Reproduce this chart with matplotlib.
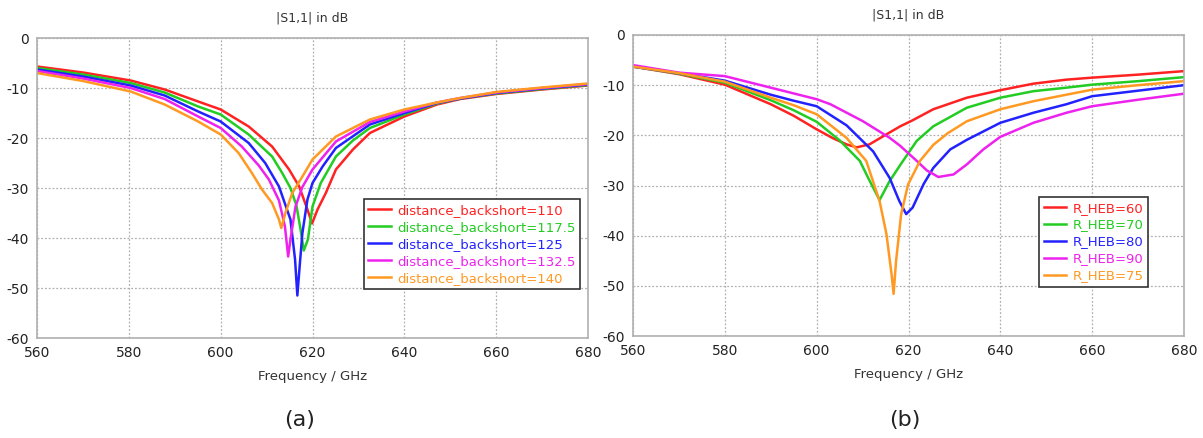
import matplotlib.pyplot as plt

plt.rcParams['axes.unicode_minus'] = False

# panel (a): distance_backshort sweep
freq_a110 = [560, 570, 580.4, 587.8, 595.1, 600, 606.1, 611.2, 614.9, 617.1, 618.9, 619.9,
             621.1, 622.9, 625.1, 628.8, 632.5, 640, 647.1, 652.2, 660, 670, 680]
s11_a110 = [-5.7, -6.9, -8.5, -10.3, -12.7, -14.3, -17.7, -21.7, -26.3, -29.7, -34.3, -37.1,
            -34.3, -31.0, -26.3, -22.3, -19.0, -15.7, -13.3, -12.2, -11.2, -10.3, -9.5]

freq_a117 = [560, 570, 580.4, 587.8, 595.1, 600, 606.1, 611.2, 613.4, 615.2, 616.5, 617.4, 618.1,
             619.0, 620.0, 621.8, 625.1, 628.8, 632.5, 640, 647.1, 652.2, 660, 670, 680]
s11_a117 = [-6.0, -7.3, -9.0, -10.9, -13.7, -15.3, -19.3, -23.7, -27.0, -30.0, -33.5, -38.3, -42.5,
            -40.3, -33.7, -29.0, -23.7, -20.5, -18.0, -15.3, -13.1, -12.1, -11.1, -10.2, -9.4]

freq_a125 = [560, 570, 580.4, 587.8, 595.1, 600, 606.1, 609.7, 612.7, 615.2, 616.2, 616.7,
             617.2, 617.8, 618.9, 620.0, 622.2, 625.1, 632.5, 640, 647.1, 652.2, 660, 670, 680]
s11_a125 = [-6.3, -7.7, -9.5, -11.5, -14.7, -16.7, -21.0, -25.0, -29.7, -36.3, -44.3, -51.5,
            -45.7, -39.0, -32.3, -29.0, -25.7, -22.0, -17.3, -15.0, -13.0, -12.1, -11.0, -10.1, -9.3]

freq_a132 = [560, 570, 580.4, 587.8, 595.1, 600, 604.6, 608.3, 610.5, 612.7, 614.0, 614.7,
             615.2, 616.3, 617.8, 620.0, 625.1, 632.5, 640, 647.1, 652.2, 660, 670, 680]
s11_a132 = [-6.6, -8.1, -10.0, -12.2, -15.7, -18.0, -21.7, -25.5, -28.3, -32.5, -37.7, -43.7,
            -40.3, -33.7, -29.8, -26.3, -20.7, -16.8, -14.7, -12.9, -12.0, -10.9, -10.0, -9.2]

freq_a140 = [560, 570, 580.4, 587.8, 595.1, 600, 603.9, 606.8, 609.0, 611.2, 612.7, 613.2,
             614.1, 615.6, 617.8, 620.0, 625.1, 632.5, 640, 647.1, 652.2, 660, 670, 680]
s11_a140 = [-7.0, -8.6, -10.7, -13.3, -16.7, -19.3, -23.0, -27.0, -30.3, -33.0, -36.3, -38.0,
            -35.0, -31.0, -27.7, -24.3, -19.7, -16.3, -14.3, -12.9, -12.0, -10.8, -9.9, -9.1]

labels_a = ['distance_backshort=110', 'distance_backshort=117.5', 'distance_backshort=125',
            'distance_backshort=132.5', 'distance_backshort=140']

# panel (b): R_HEB sweep
freq_b60 = [560, 570, 580, 590, 595, 600, 603.6, 606.5, 608.7, 611.5, 615.2, 618.2, 620.9,
            625.4, 632.7, 640, 647.2, 654.4, 660, 670, 680]
s11_b60 = [-6.3, -7.8, -9.9, -13.8, -16.1, -18.8, -20.6, -21.8, -22.4, -21.8, -19.8, -18.2, -17.0,
           -14.8, -12.5, -11.0, -9.7, -8.9, -8.5, -7.9, -7.2]

freq_b70 = [560, 570, 580, 590, 595, 600, 605.0, 609.4, 611.5, 613.7, 615.9, 618.5, 621.8,
            625.4, 632.7, 640, 647.2, 654.4, 660, 670, 680]
s11_b70 = [-6.3, -7.7, -9.5, -13.0, -15.0, -17.3, -21.0, -25.1, -29.0, -32.9, -29.1, -25.5, -21.1,
           -18.2, -14.5, -12.5, -11.2, -10.5, -9.9, -9.2, -8.4]

freq_b80 = [560, 570, 580, 590, 595, 600, 606.5, 612.3, 615.9, 618.0, 619.5, 620.9, 623.3,
            625.4, 629.1, 632.7, 640, 647.2, 654.4, 660, 670, 680]
s11_b80 = [-6.3, -7.6, -9.1, -11.9, -13.1, -14.2, -18.0, -23.2, -28.5, -33.1, -35.7, -34.4, -29.7,
           -26.5, -22.8, -20.9, -17.5, -15.5, -13.8, -12.2, -11.1, -10.0]

freq_b90 = [560, 570, 580, 590, 600, 603, 610.1, 615.9, 618.2, 621.8, 624.0, 626.5, 629.8,
            632.7, 636.3, 640, 647.2, 654.4, 660, 670, 680]
s11_b90 = [-6.0, -7.5, -8.2, -10.5, -12.8, -13.8, -17.2, -20.5, -22.1, -25.1, -27.0, -28.3, -27.8,
           -25.8, -22.8, -20.3, -17.5, -15.5, -14.2, -12.9, -11.7]

freq_b75 = [560, 570, 580, 590, 595, 600, 606.5, 610.8, 613.7, 615.2, 616.3, 616.75, 617.3, 618.4,
            619.9, 622.5, 625.4, 628.5, 632.7, 640, 647.2, 654.4, 660, 670, 680]
s11_b75 = [-6.3, -7.6, -9.3, -12.5, -14.0, -15.8, -20.5, -25.1, -33.1, -39.7, -47.6, -51.6, -45.0, -35.7,
           -29.8, -25.1, -21.9, -19.6, -17.2, -14.8, -13.2, -11.9, -10.9, -10.0, -9.2]

labels_b = ['R_HEB=60', 'R_HEB=70', 'R_HEB=80', 'R_HEB=90', 'R_HEB=75']

colors = ['#ff2222', '#22cc22', '#2222ff', '#ee22ee', '#ff9922']
grey = '#b0b0b0'

fig = plt.figure(figsize=(12.03, 4.38), dpi=100)
ax1 = fig.add_axes([37 / 1203, 100 / 438, 551 / 1203, 300 / 438])
ax2 = fig.add_axes([633 / 1203, 102 / 438, 551 / 1203, 301 / 438])

series_a = [(freq_a110, s11_a110), (freq_a117, s11_a117), (freq_a125, s11_a125),
            (freq_a132, s11_a132), (freq_a140, s11_a140)]
series_b = [(freq_b60, s11_b60), (freq_b70, s11_b70), (freq_b80, s11_b80),
            (freq_b90, s11_b90), (freq_b75, s11_b75)]

for ax, series, labels, leg_xy in [(ax1, series_a, labels_a, (0.593, 0.463)),
                                   (ax2, series_b, labels_b, (0.737, 0.462))]:
    for (f, s), lab, c in zip(series, labels, colors):
        ax.plot(f, s, color=c, linewidth=1.8, label=lab)
    ax.set_xlim(560, 680)
    ax.set_ylim(-60, 0)
    ax.set_xticks(range(560, 681, 20))
    ax.set_yticks(range(-60, 1, 10))
    ax.grid(True, linestyle=(0, (1.5, 1.5)), color=grey, linewidth=0.9)
    ax.tick_params(length=0, labelsize=10, pad=6, colors='#222222')
    for sp in ax.spines.values():
        sp.set_color(grey)
        sp.set_linewidth(1.2)
    ax.set_title('|S1,1| in dB', fontsize=9, pad=12, color='#333333')
    ax.set_xlabel('Frequency / GHz', fontsize=9.5, labelpad=7, color='#333333')
    leg = ax.legend(loc='upper left', bbox_to_anchor=leg_xy, borderaxespad=0,
                    fancybox=False, edgecolor='#333333', fontsize=9.5,
                    handlelength=1.7, handletextpad=0.5, labelspacing=0.3,
                    borderpad=0.35, labelcolor='linecolor', framealpha=1)
    leg.get_frame().set_linewidth(1.2)

fig.text(300 / 1203, 1 - 420 / 438, '(a)', fontsize=16, ha='center', va='center', color='#222222')
fig.text(905 / 1203, 1 - 420 / 438, '(b)', fontsize=16, ha='center', va='center', color='#222222')

fig.savefig('out.png', dpi=100)
